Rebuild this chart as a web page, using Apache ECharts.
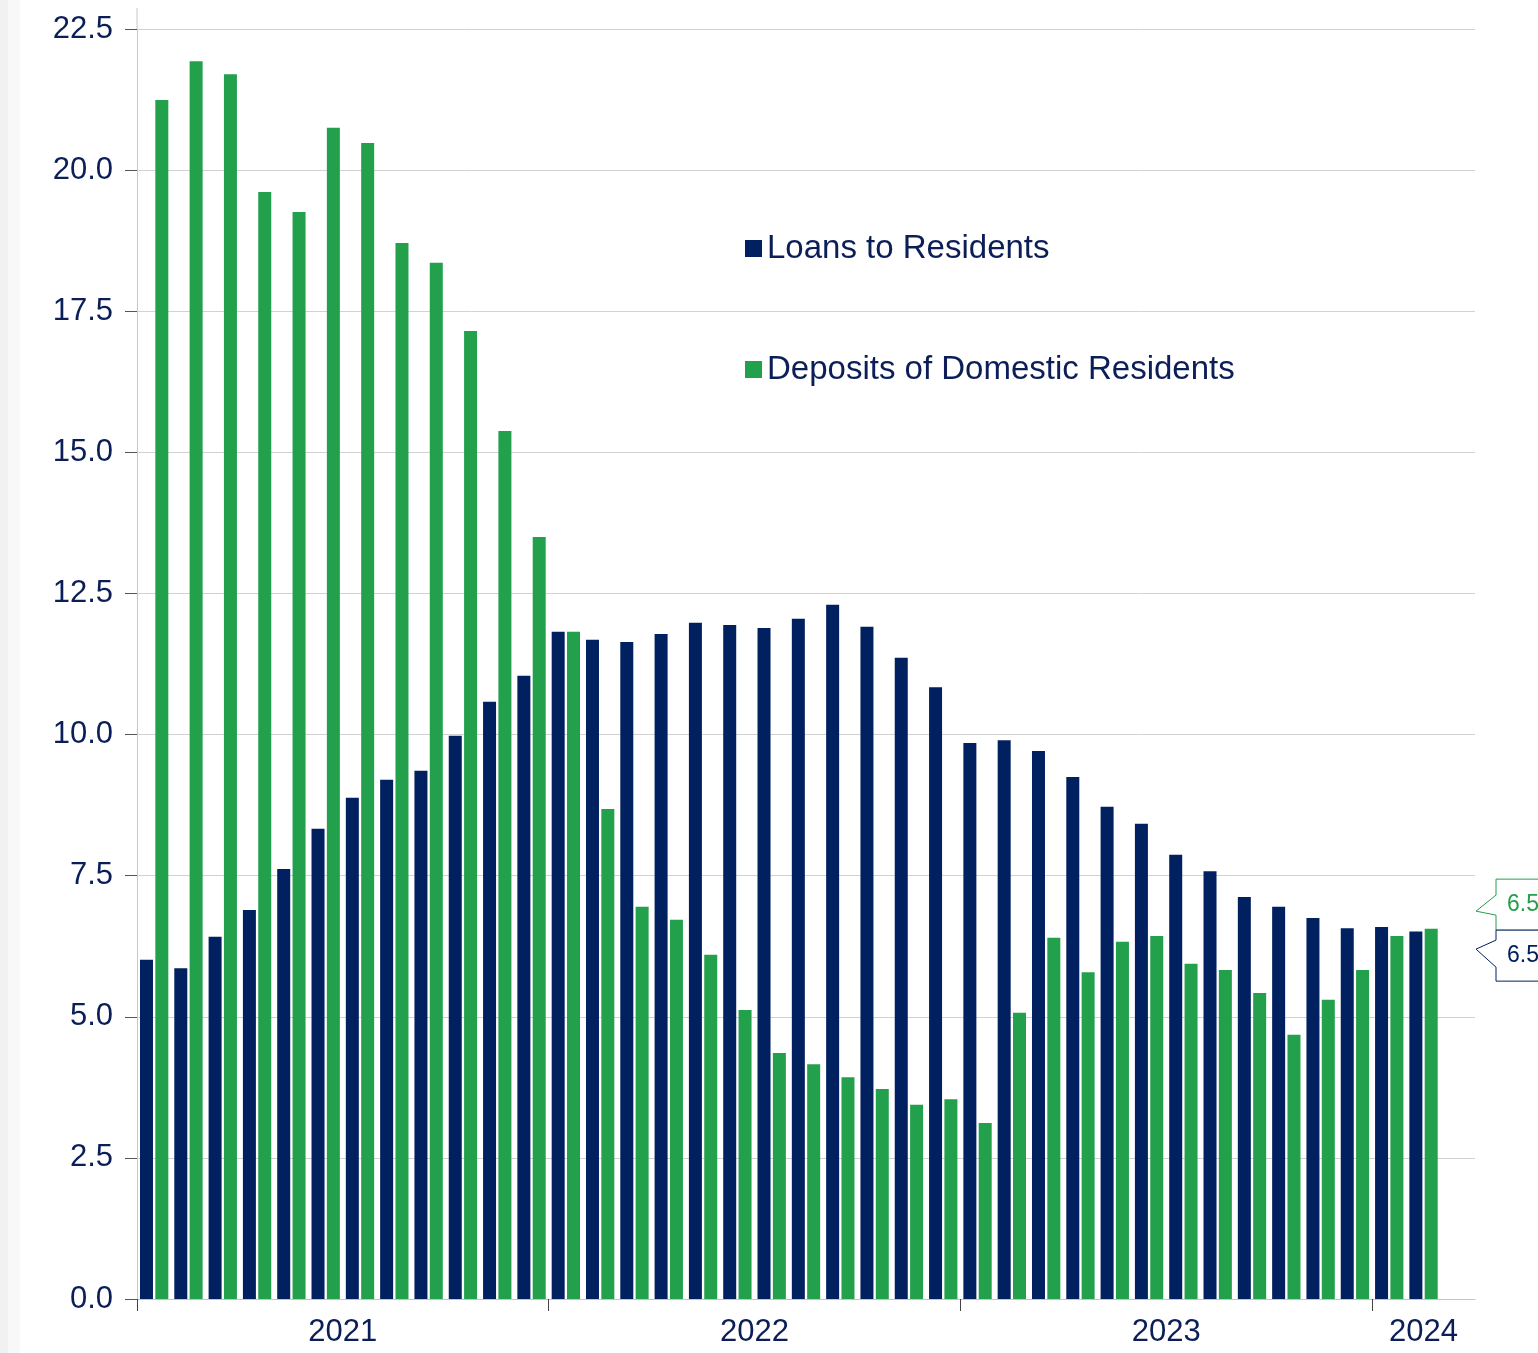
<!DOCTYPE html>
<html><head><meta charset="utf-8">
<script src="https://cdn.jsdelivr.net/npm/echarts@6/dist/echarts.min.js"></script>
<style>
html,body{margin:0;padding:0;background:#fff;overflow:hidden;}
#stripe{position:absolute;left:0;top:0;width:20px;height:1353px;background:linear-gradient(to right,#f1f1f1 0,#f1f1f1 8px,#f8f8f8 8px,#f8f8f8 20px);}
#chart{position:absolute;left:0;top:0;width:1538px;height:1353px;}
</style></head><body>
<div id="stripe"></div>
<div id="chart"></div>
<script>
const months = ['2021-01','2021-02','2021-03','2021-04','2021-05','2021-06','2021-07','2021-08','2021-09','2021-10','2021-11','2021-12',
  '2022-01','2022-02','2022-03','2022-04','2022-05','2022-06','2022-07','2022-08','2022-09','2022-10','2022-11','2022-12',
  '2023-01','2023-02','2023-03','2023-04','2023-05','2023-06','2023-07','2023-08','2023-09','2023-10','2023-11','2023-12',
  '2024-01','2024-02','2024-03'];
const loans = [6.01,5.86,6.42,6.89,7.62,8.33,8.88,9.20,9.36,9.98,10.58,11.04,
  11.82,11.68,11.64,11.78,11.98,11.94,11.89,12.05,12.30,11.91,11.36,10.84,
  9.85,9.90,9.71,9.25,8.72,8.42,7.87,7.58,7.12,6.95,6.75,6.57,
  6.59,6.51];
const deposits = [21.24,21.93,21.70,19.61,19.26,20.75,20.48,18.71,18.36,17.15,15.38,13.50,
  11.82,8.68,6.95,6.72,6.10,5.12,4.36,4.16,3.93,3.72,3.44,3.54,
  3.12,5.07,6.40,5.79,6.33,6.43,5.94,5.83,5.42,4.68,5.30,5.83,
  6.43,6.56];
const yearTickPositions = [0, 12, 24, 36];
const yearLabelPositions = [6, 18, 30, 37.5];
const yearLabelTexts = ['2021', '2022', '2023', '2024'];
const yTicks = { min: 0, max: 22.5, interval: 2.5 };

const NAVY = '#002060';
const GREEN = '#22a04b';
const TEXT = '#0b1e58';
const FONT = 'Liberation Sans, Arial, sans-serif';

const chart = echarts.init(document.getElementById('chart'), null, { renderer: 'canvas' });
const option = {
  animation: false,
  grid: { left: 137, right: 63, top: 29, bottom: 54, containLabel: false },
  legend: {
    orient: 'vertical', left: 740, top: 227, padding: 5,
    itemWidth: 17, itemHeight: 17, itemGap: 88, icon: 'rect',
    textStyle: { fontSize: 33, color: TEXT, fontFamily: FONT },
    data: ['Loans to Residents', 'Deposits of Domestic Residents']
  },
  xAxis: [
    {
      type: 'category', data: months,
      axisLine: { show: true, lineStyle: { color: '#c4c4c4', width: 1 } },
      axisTick: { show: false }, axisLabel: { show: false }, splitLine: { show: false }
    },
    {
      type: 'value', min: 0, max: months.length, position: 'bottom',
      axisLine: { show: false },
      axisTick: { show: true, customValues: yearTickPositions, length: 12, lineStyle: { color: '#444', width: 1 } },
      axisLabel: {
        customValues: yearLabelPositions, margin: 18,
        fontSize: 31, color: TEXT, fontFamily: FONT,
        formatter: function (v) {
          const i = yearLabelPositions.indexOf(v);
          return i >= 0 ? yearLabelTexts[i] : '';
        }
      },
      splitLine: { show: false }
    }
  ],
  yAxis: {
    type: 'value', min: yTicks.min, max: yTicks.max, interval: yTicks.interval,
    axisLine: { show: true, lineStyle: { color: '#c8c8c8', width: 1 } },
    axisTick: { show: true, length: 12, lineStyle: { color: '#555', width: 1 } },
    axisLabel: { margin: 24, fontSize: 31, color: TEXT, fontFamily: FONT, formatter: v => v.toFixed(1) },
    splitLine: { show: true, lineStyle: { color: '#d2d2d2', width: 1 } }
  },
  series: [
    { name: 'Loans to Residents', type: 'bar', xAxisIndex: 0, data: loans, barWidth: 13, barGap: '18%', itemStyle: { color: NAVY } },
    { name: 'Deposits of Domestic Residents', type: 'bar', xAxisIndex: 0, data: deposits, barWidth: 13, barGap: '18%', itemStyle: { color: GREEN } }
  ]
};
chart.setOption(option);

// Axis line extension and end-value flags, positioned through the chart's own scales
const gx0 = chart.convertToPixel({ xAxisIndex: 1 }, 0);
const gxEnd = chart.convertToPixel({ xAxisIndex: 1 }, months.length);
const yTop = chart.convertToPixel({ yAxisIndex: 0 }, yTicks.max);
const lastLoan = loans[loans.length - 1];
const lastDep = deposits[deposits.length - 1];
const yG = chart.convertToPixel({ yAxisIndex: 0 }, lastDep);
const yN = chart.convertToPixel({ yAxisIndex: 0 }, lastLoan);
const mid = (yG + yN) / 2;
const tipX = gxEnd + 1;
const boxL = tipX + 20;
const boxR = 1600;
const H = 51;

function flag(top, color, text, j1, tip, j2) {
  return [
    {
      type: 'polygon',
      shape: { points: [[boxL, top], [boxR, top], [boxR, top + H], [boxL, top + H], [boxL, top + j2], [tipX, top + tip], [boxL, top + j1]] },
      style: { fill: '#fff', stroke: color, lineWidth: 1 }, z: 100
    },
    {
      type: 'text', x: boxL + 11, y: top + H / 2,
      style: { text: text, fill: color, font: '23px ' + FONT, verticalAlign: 'middle', align: 'left' }, z: 101
    }
  ];
}

chart.setOption({
  graphic: [
    { type: 'line', shape: { x1: gx0, y1: yTop - 21, x2: gx0, y2: yTop }, style: { stroke: '#c8c8c8', lineWidth: 1 }, z: 50 },
    ...flag(mid - H, GREEN, lastDep.toFixed(2), 16, 32, 36),
    ...flag(mid, NAVY, lastLoan.toFixed(2), 10, 19, 37)
  ]
});
</script>
</body></html>
